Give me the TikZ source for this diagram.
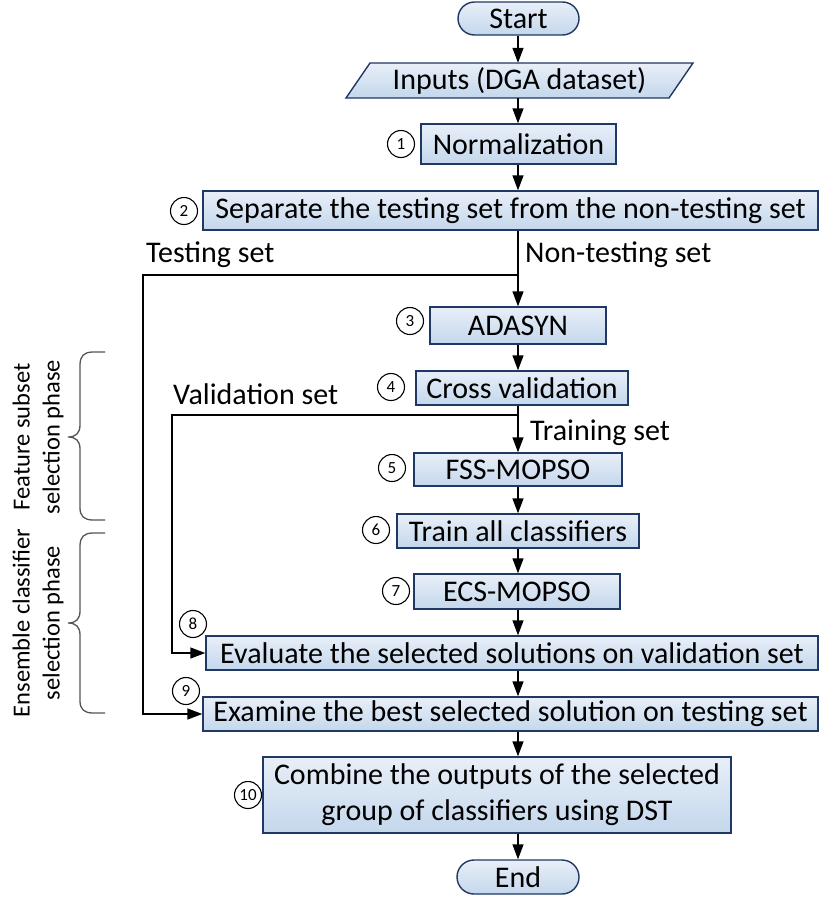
\documentclass[tikz,border=0pt]{standalone}
\usepackage{fontspec}
\setmainfont{Carlito}
\usetikzlibrary{arrows.meta,shapes.misc}
\definecolor{boxline}{RGB}{31,56,100}
\definecolor{boxtop}{RGB}{232,239,248}
\definecolor{boxbot}{RGB}{196,215,236}
\definecolor{bracegray}{RGB}{85,85,85}
\tikzset{
  stepbox/.style={draw=boxline, line width=1.4pt, top color=boxtop, bottom color=boxbot,
    font=\fontsize{30}{36}\selectfont, inner sep=0pt, align=center},
  termbox/.style={stepbox, rounded rectangle},
  stepnum/.style={circle, draw=black, line width=1.1pt, minimum size=27pt, inner sep=0pt,
    font=\fontsize{17}{17}\selectfont},
  flow/.style={line width=1.4pt, draw=black},
  arr/.style={flow, -{Triangle[length=15pt,width=11pt]}},
  lbl/.style={font=\fontsize{30}{36}\selectfont, inner sep=0pt},
  phase/.style={font=\fontsize{24.5}{30}\selectfont, align=center, rotate=90, inner sep=0pt},
  bracepath/.style={draw=bracegray, line width=1.3pt}
}
\begin{document}
\begin{tikzpicture}[x=1pt,y=-1pt]
\useasboundingbox (0,0) rectangle (835,900);

% main column
\coordinate (axis) at (518,0);

% terminals and steps
\node[termbox, minimum width=121pt, minimum height=33pt] (start) at (518.5,18.5) {Start};
\path[draw=boxline, line width=1.4pt, top color=boxtop, bottom color=boxbot]
  (346,98) -- (370,63) -- (693,63) -- (669,98) -- cycle;
\node[lbl, minimum height=35pt] (inp) at (519.5,80.5) {Inputs (DGA dataset)};
\node[stepbox, minimum width=195pt, minimum height=40pt] (norm) at (518.5,144) {Normalization};
\node[stepbox, minimum width=615pt, minimum height=39pt] (sep) at (510.5,210.5) {Separate the testing set from the non-testing set};
\node[stepbox, minimum width=176pt, minimum height=37pt] (ada) at (518,325.5) {ADASYN};
\node[stepbox, minimum width=212pt, minimum height=34pt] (cv) at (522,388) {Cross validation};
\node[stepbox, minimum width=208pt, minimum height=33pt] (fss) at (518,469.5) {FSS-MOPSO};
\node[stepbox, minimum width=242pt, minimum height=34pt] (train) at (518,531) {Train all classifiers};
\node[stepbox, minimum width=206pt, minimum height=35pt] (ecs) at (517,591.5) {ECS-MOPSO};
\node[stepbox, minimum width=612pt, minimum height=34pt] (eval) at (512,653) {Evaluate the selected solutions on validation set};
\node[stepbox, minimum width=615pt, minimum height=34pt] (exam) at (510.5,714) {Examine the best selected solution on testing set};
\node[stepbox, minimum width=468pt, minimum height=76pt] (comb) at (497,795) {Combine the outputs of the selected\\group of classifiers using DST};
\node[termbox, minimum width=122pt, minimum height=34pt] (end) at (518,877) {End};

% step numbers
\node[stepnum] (n1) at (401,144) {1};
\node[stepnum] (n2) at (184,211) {2};
\node[stepnum] (n3) at (410,321) {3};
\node[stepnum] (n4) at (391,387) {4};
\node[stepnum] (n5) at (392,468) {5};
\node[stepnum] (n6) at (376,530) {6};
\node[stepnum] (n7) at (396,591) {7};
\node[stepnum] (n8) at (193,624) {8};
\node[stepnum] (n9) at (186,691) {9};
\node[stepnum] (n10) at (248,795) {10};

% vertical flow
\draw[arr] (start.south -| axis) -- (inp.north -| axis);
\draw[arr] (inp.south -| axis) -- (norm.north -| axis);
\draw[arr] (norm.south -| axis) -- (sep.north -| axis);
\draw[arr] (sep.south -| axis) -- (ada.north -| axis);
\draw[arr] (ada.south -| axis) -- (cv.north -| axis);
\draw[arr] (cv.south -| axis) -- (fss.north -| axis);
\draw[arr] (fss.south -| axis) -- (train.north -| axis);
\draw[arr] (train.south -| axis) -- (ecs.north -| axis);
\draw[arr] (ecs.south -| axis) -- (eval.north -| axis);
\draw[arr] (eval.south -| axis) -- (exam.north -| axis);
\draw[arr] (exam.south -| axis) -- (comb.north -| axis);
\draw[arr] (comb.south -| axis) -- (end.north -| axis);

% side branches
\coordinate (tb) at (518,275);
\coordinate (tl) at (143,0);
\draw[arr] (tb) -- (tb -| tl) |- (exam.west);
\coordinate (vb) at (518,415);
\coordinate (vl) at (172,0);
\draw[arr] (vb) -- (vb -| vl) |- (eval.west);

% branch labels
\node[lbl, anchor=base west] (ltest) at (146,262) {Testing set};
\node[lbl, anchor=base west] (lnontest) at (525,262) {Non-testing set};
\node[lbl, anchor=base west] (lval) at (173,404) {Validation set};
\node[lbl, anchor=base west] (ltrain) at (530,440) {Training set};

% phase braces
\draw[bracepath] (105,352) -- (93,352) .. controls (84,352) and (80,356) .. (80,365)
  -- (80,425) .. controls (80,433) and (76,437) .. (68,437)
  .. controls (76,437) and (80,441) .. (80,449) -- (80,508)
  .. controls (80,516) and (84,520) .. (93,520) -- (105,520);
\draw[bracepath] (105,533) -- (93,533) .. controls (84,533) and (80,537) .. (80,546)
  -- (80,611) .. controls (80,619) and (76,623) .. (68,623)
  .. controls (76,623) and (80,627) .. (80,635) -- (80,701)
  .. controls (80,709) and (84,713) .. (93,713) -- (105,713);
\node[phase] (pfeat) at (38,437) {Feature subset\\selection phase};
\node[phase] (pens) at (38,623) {Ensemble classifier\\selection phase};
\end{tikzpicture}
\end{document}
